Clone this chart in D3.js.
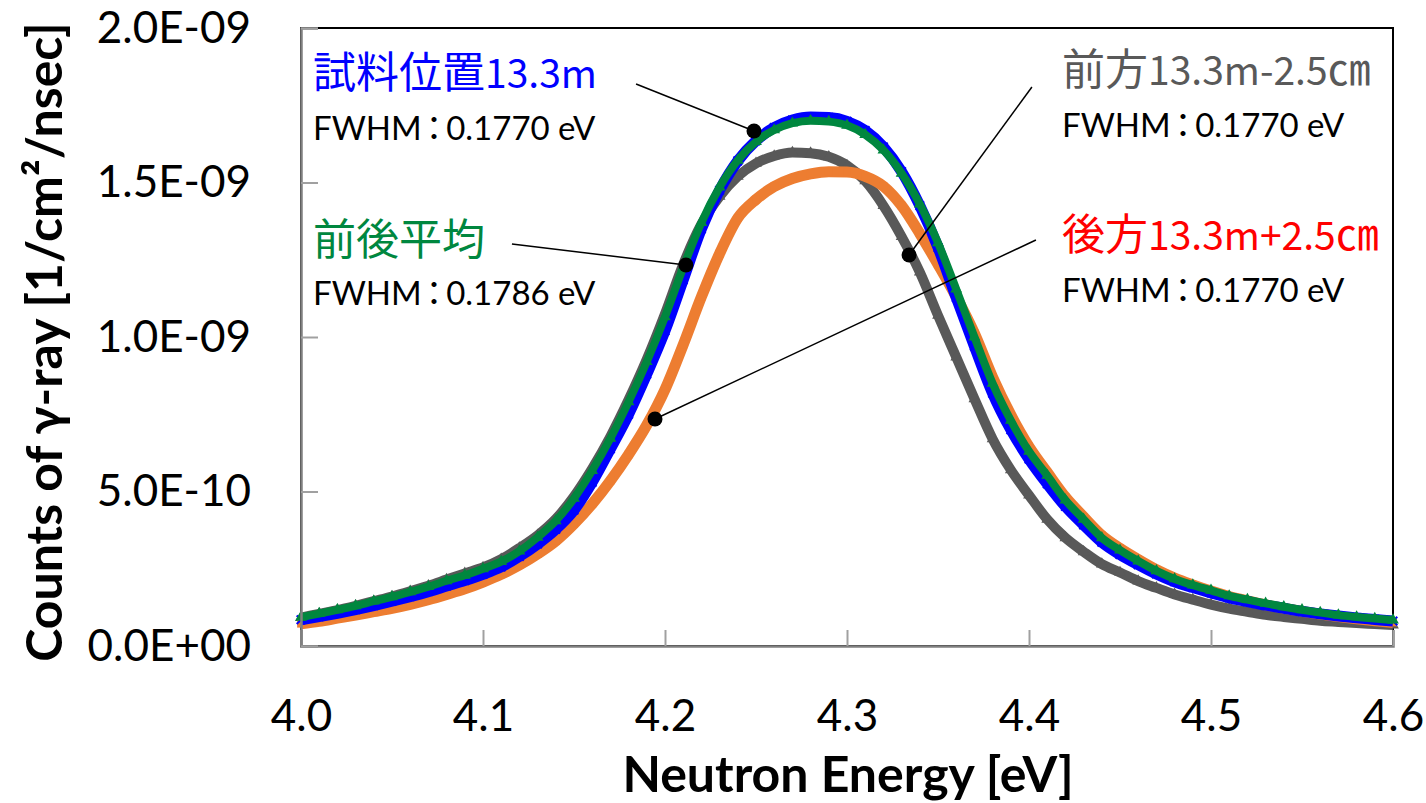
<!DOCTYPE html>
<html><head><meta charset="utf-8">
<script src="https://cdn.jsdelivr.net/npm/d3@7"></script>
<style>body{margin:0;background:#fff;} svg{display:block;}</style>
</head><body>
<svg id="chart" width="1426" height="803"></svg>
<script>
// ---- data (counts in units of 1E-09 1/cm2/nsec) ----
const energy = [4.00,4.01,4.02,4.03,4.04,4.05,4.06,4.07,4.08,4.09,4.10,4.11,4.12,4.13,4.14,4.15,4.16,4.17,4.18,4.19,4.20,4.21,4.22,4.23,4.24,4.25,4.26,4.27,4.28,4.29,4.30,4.31,4.32,4.33,4.34,4.35,4.36,4.37,4.38,4.39,4.40,4.41,4.42,4.43,4.44,4.45,4.46,4.47,4.48,4.49,4.50,4.51,4.52,4.53,4.54,4.55,4.56,4.57,4.58,4.59,4.60];
// 前方13.3m-2.5cm (gray)
const frontVals = [0.092,0.104,0.116,0.130,0.145,0.160,0.177,0.195,0.215,0.235,0.254,0.281,0.317,0.358,0.411,0.484,0.574,0.678,0.797,0.928,1.075,1.235,1.365,1.455,1.520,1.562,1.586,1.597,1.595,1.583,1.555,1.505,1.425,1.325,1.210,1.070,0.935,0.800,0.670,0.570,0.488,0.410,0.350,0.305,0.265,0.238,0.210,0.188,0.167,0.150,0.134,0.121,0.111,0.101,0.094,0.088,0.082,0.078,0.074,0.071,0.068];
// 後方13.3m+2.5cm (orange)
const backVals = [0.072,0.080,0.090,0.100,0.111,0.122,0.135,0.150,0.167,0.185,0.207,0.232,0.262,0.298,0.340,0.395,0.460,0.535,0.620,0.715,0.830,0.975,1.130,1.270,1.385,1.445,1.487,1.513,1.528,1.535,1.534,1.520,1.488,1.425,1.335,1.235,1.130,1.012,0.870,0.748,0.645,0.562,0.482,0.418,0.358,0.316,0.280,0.247,0.220,0.198,0.178,0.160,0.146,0.133,0.122,0.112,0.103,0.095,0.088,0.082,0.076];
// 試料位置13.3m (blue)
const sampleVals = [0.085,0.095,0.106,0.118,0.131,0.145,0.160,0.176,0.194,0.212,0.232,0.256,0.290,0.330,0.378,0.440,0.530,0.638,0.750,0.880,1.020,1.185,1.350,1.475,1.570,1.635,1.678,1.702,1.712,1.710,1.698,1.668,1.615,1.535,1.425,1.290,1.128,0.970,0.818,0.700,0.605,0.525,0.452,0.392,0.336,0.296,0.263,0.233,0.208,0.189,0.172,0.156,0.144,0.132,0.122,0.112,0.104,0.097,0.091,0.086,0.081];
// 前後平均 (green)
const averageVals = [0.093,0.105,0.117,0.130,0.145,0.159,0.175,0.192,0.211,0.229,0.250,0.273,0.307,0.352,0.405,0.478,0.568,0.672,0.790,0.920,1.065,1.225,1.370,1.485,1.572,1.632,1.670,1.692,1.700,1.697,1.685,1.655,1.605,1.530,1.430,1.305,1.155,1.000,0.850,0.730,0.630,0.552,0.472,0.410,0.350,0.310,0.275,0.243,0.217,0.197,0.180,0.162,0.150,0.138,0.127,0.117,0.108,0.100,0.094,0.089,0.084];

const xTicks = [4.0,4.1,4.2,4.3,4.4,4.5,4.6];
const yTicks = [0,0.5,1.0,1.5,2.0];
const yTickLabels = ["0.0E+00","5.0E-10","1.0E-09","1.5E-09","2.0E-09"];

const seriesNames = ["前方13.3m-2.5㎝","後方13.3m+2.5㎝","試料位置13.3m","前後平均"];
const seriesFwhm = ["0.1770","0.1770","0.1770","0.1786"];
// annotation dots and leader-line starts (energy, value)
const dotE = [4.3341,4.1945,4.2489,4.2115];
const dotV = [1.2654,0.7346,1.6667,1.233];
const leadE = [4.4016,4.4038,4.1841,4.1159];
const leadV = [1.809,1.314,1.819,1.301];

// ---- layout / style ----
const svg = d3.select("#chart");
const x = d3.scaleLinear().domain([4.0,4.6]).range([301,1393]);
const y = d3.scaleLinear().domain([0,2.0]).range([646,28]);
const latin = "Lato, 'Liberation Sans', sans-serif";
const cjk = "'Noto Sans CJK JP', 'Noto Sans', sans-serif";

const seriesVals = [frontVals, backVals, sampleVals, averageVals];
const colors = ["#595959","#ED7D31","#0000FF","#00873F"];
const labelColors = ["#595959","#FF0000","#0000FF","#00873F"];
const bandW = [10,11,11,8];
const symbols = [d3.symbolTriangle, d3.symbolSquare, d3.symbolX, d3.symbolTriangle];

// plot border (black top/right)
svg.append("rect").attr("x",x(4.0)).attr("y",y(2.0)).attr("width",x(4.6)-x(4.0)).attr("height",y(0)-y(2.0))
  .attr("fill","none").attr("stroke","#000").attr("stroke-width",2);

// series
const line = d3.line().x((d,i)=>x(energy[i])).y(d=>y(d)).curve(d3.curveMonotoneX);
seriesVals.forEach((vals,k)=>{
  const g = svg.append("g");
  g.append("path").attr("d",line(vals)).attr("fill","none")
    .attr("stroke",colors[k]).attr("stroke-width",bandW[k]).attr("stroke-linejoin","round");
  const sym = d3.symbol().type(symbols[k]).size(k===2?50:60);
  g.selectAll("path.m").data(vals).enter().append("path").attr("class","m")
    .attr("d",sym)
    .attr("transform",(d,i)=>`translate(${x(energy[i])},${y(d)})`)
    .attr("fill",k===2?"none":colors[k]).attr("stroke",k===2?colors[k]:"none").attr("stroke-width",2);
});

// axes (gray, inward ticks)
const xAxis = d3.axisBottom(x).tickValues(xTicks).tickSize(-16).tickPadding(54).tickFormat(d3.format(".1f"));
const gx = svg.append("g").attr("transform",`translate(0,${y(0)})`).call(xAxis);
const yAxis = d3.axisLeft(y).tickValues(yTicks).tickSize(-17).tickPadding(50).tickFormat((d,i)=>yTickLabels[i]);
const gy = svg.append("g").attr("transform",`translate(${x(4.0)},0)`).call(yAxis);
[gx,gy].forEach(g=>{
  g.select(".domain").attr("stroke","#808080").attr("stroke-width",2.5);
  g.selectAll(".tick line").attr("stroke","#A0A0A0").attr("stroke-width",2);
  g.selectAll(".tick text").attr("fill","#000").style("font-family",latin).style("font-size","44px");
});
gx.selectAll(".tick text").attr("dy","0.71em");

// axis titles
svg.append("text").attr("x",848).attr("y",792).attr("text-anchor","middle")
  .style("font-family",latin).style("font-weight","bold").style("font-size","50px").text("Neutron Energy [eV]");
svg.append("text").attr("transform","translate(62,342) rotate(-90)").attr("text-anchor","middle")
  .style("font-family",latin).style("font-weight","bold").style("font-size","50px").text("Counts of γ-ray [1/cm²/nsec]");

// leader lines and dots
dotE.forEach((e,k)=>{
  svg.append("line").attr("x1",x(leadE[k])).attr("y1",y(leadV[k])).attr("x2",x(e)).attr("y2",y(dotV[k]))
    .attr("stroke","#000").attr("stroke-width",1.5);
});
dotE.forEach((e,k)=>{
  svg.append("circle").attr("cx",x(e)).attr("cy",y(dotV[k])).attr("r",7.5).attr("fill","#000");
});

// labels
const labelPos = [[1062,85,137],[1062,250,302],[313,88,140],[313,255,305]];
seriesNames.forEach((name,k)=>{
  const [lx,ly,fy] = labelPos[k];
  const t0 = svg.append("text").attr("x",lx).attr("y",ly).attr("fill",labelColors[k])
    .style("font-family",cjk);
  (name.match(/[\u3000-\u9fff]+|[^\u3000-\u9fff]+/g)||[]).forEach(run=>{
    const isCjk = /[\u3000-\u9fff]/.test(run);
    t0.append("tspan").style("font-size",isCjk?"43px":"39px").text(run);
  });
  const t = svg.append("text").attr("x",lx).attr("y",fy).attr("fill","#000")
    .style("font-family",latin).style("font-size","33px");
  t.append("tspan").text("FWHM");
  t.append("tspan").attr("dx",4).style("font-family",cjk).style("font-feature-settings","'palt' 1").style("font-size","33px").text("：");
  t.append("tspan").attr("dx",4).text(seriesFwhm[k]+" eV");
});
</script>
</body></html>
